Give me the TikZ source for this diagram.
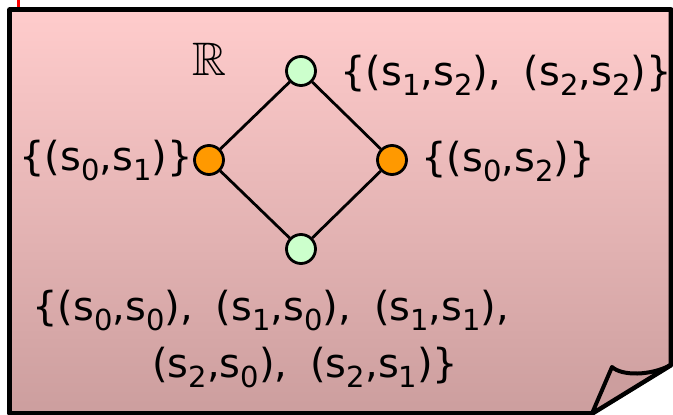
\documentclass[tikz,border=0pt]{standalone}
\usepackage{amsmath,amssymb}
\usepackage{fontspec}
\setmainfont{DejaVu Sans}
\usepackage{xcolor}
\usepackage{tikz}
\usetikzlibrary{positioning}

\definecolor{notetop}{RGB}{255,204,204}
\definecolor{notebot}{RGB}{204,158,158}
\definecolor{elemgreen}{RGB}{204,255,204}
\definecolor{elemorange}{RGB}{255,153,0}

% s with a lowered index
\newcommand\sx[1]{s\raisebox{-10pt}{\fontsize{29}{29}\selectfont #1}}
\newcommand\gap{,\hspace{23pt}}

\begin{document}
\begin{tikzpicture}[
  x=1pt, y=-1pt,
  font=\fontsize{40}{57}\selectfont,
  elem/.style={circle,draw,line width=2.8pt,minimum size=29pt,inner sep=0pt},
  top/.style={elem,fill=elemgreen},
  mid/.style={elem,fill=elemorange},
  set/.style={inner sep=0pt,anchor=base west},
  edge/.style={line width=2.8pt},
]
\useasboundingbox (0,0) rectangle (673,415);
% note sheet
\draw[red,line width=2.5pt] (18.5,0) -- (18.5,8);
\shade[top color=notetop,bottom color=notebot]
  (9.5,9.5) -- (671,9.5) -- (671,365) -- (592,413.5) -- (9.5,413.5) -- cycle;
\draw[line width=4.8pt,line join=round]
  (592,413.5) -- (9.5,413.5) -- (9.5,9.5) -- (671,9.5) -- (671,365) -- cycle;
\filldraw[fill=notebot,line width=4pt,line join=round]
  (592,413.5) -- (612,367) .. controls (622,376) and (650,376) .. (671,365) -- cycle;

% lattice
\node[top] (rtop) at (301,71)  {};
\node[mid] (rleft) at (209,160) {};
\node[mid] (rright) at (392,160) {};
\node[top] (rbot) at (301,249) {};
\draw[edge] (rtop) -- (rleft);
\draw[edge] (rtop) -- (rright);
\draw[edge] (rleft) -- (rbot);
\draw[edge] (rright) -- (rbot);

\node[set,font=\fontsize{47}{47}\selectfont] (rname) at (192,75) {$\mathbb{R}$};
\node[set] (stop) at (340,85) {\{(\sx{1},\sx{2})\gap(\sx{2},\sx{2})\}};
\node[set] (sleft) at (19,170) {\{(\sx{0},\sx{1})\}};
\node[set] (sright) at (421,171) {\{(\sx{0},\sx{2})\}};
\node[set,align=left] (sbot) at (32,377)
  {\{(\sx{0},\sx{0})\gap(\sx{1},\sx{0})\gap(\sx{1},\sx{1}),\\
   \hspace*{120pt}(\sx{2},\sx{0})\gap(\sx{2},\sx{1})\}};
\end{tikzpicture}
\end{document}
